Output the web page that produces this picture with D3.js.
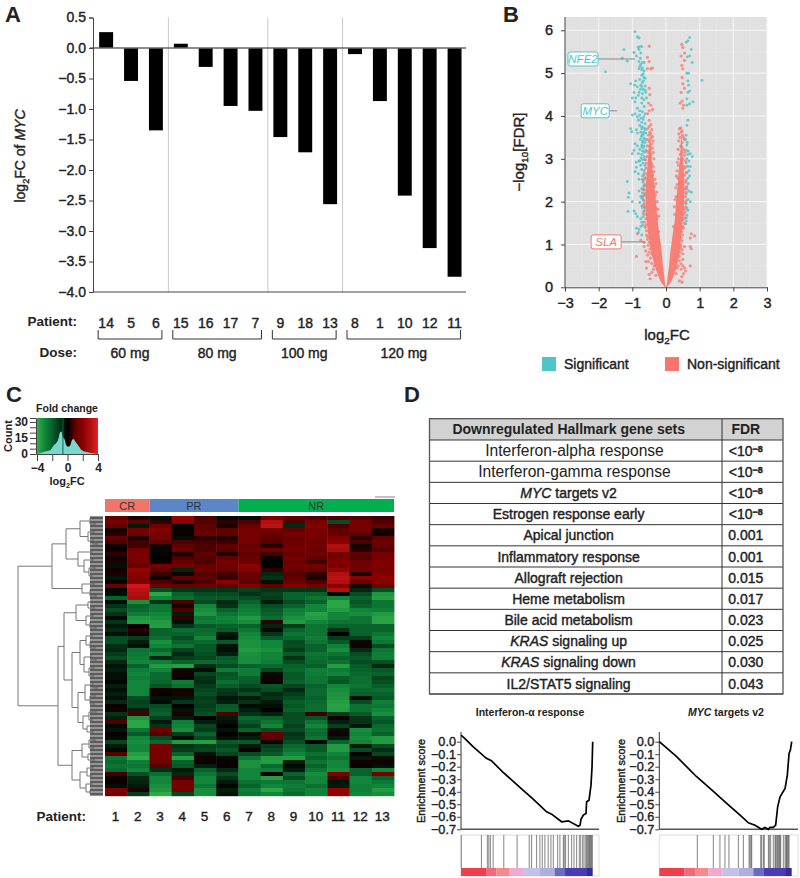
<!DOCTYPE html>
<html><head><meta charset="utf-8">
<script src="https://cdn.jsdelivr.net/npm/d3@7"></script>
<style>
html,body{margin:0;padding:0;background:#fff}
svg{display:block}
text{font-family:"Liberation Sans",Arial,sans-serif;fill:#222}
.m{stroke:#222;stroke-width:.4px}
.domain,.tick line{stroke:#444}
</style></head><body><svg id="c" width="800" height="878" viewBox="0 0 800 878"></svg>
<script>
// ---------- Panel A ----------
const patientsA=["14","5","6","15","16","17","7","9","18","13","8","1","10","12","11"];
const myc=[0.26,-0.54,-1.35,0.07,-0.31,-0.95,-1.03,-1.46,-1.71,-2.56,-0.1,-0.87,-2.42,-3.28,-3.75];
const doseNames=["60 mg","80 mg","100 mg","120 mg"];
const doseCounts=[3,4,3,5];
const yTicksA=[0.5,0,-0.5,-1,-1.5,-2,-2.5,-3,-3.5,-4];
// ---------- Panel B ----------
const volTicksX=[-3,-2,-1,0,1,2,3];
const volTicksY=[0,1,2,3,4,5,6];
const volEnvelope=[[0,-.02,0,0,.02],[.1,-.13,-.03,.03,.13],[.25,-.22,-.05,.05,.22],[.5,-.33,-.09,.09,.32],[.75,-.42,-.12,.12,.39],[1,-.48,-.15,.16,.42],[1.25,-.53,-.2,.2,.46],[1.5,-.57,-.24,.25,.49],[1.75,-.6,-.27,.28,.52],[2,-.61,-.3,.3,.54],[2.25,-.61,-.33,.33,.55],[2.5,-.59,-.36,.36,.54],[2.75,-.56,-.4,.38,.53],[3,-.53,-.43,.42,.5],[3.3,-.5,-.45,.44,.48],[3.6,-.47,-.465,.46,.465]];
const volSig=[[-.92,5.97],[-.85,5.85],[-.8,5.82],[-.78,5.62],[-.72,5.62],[-.83,5.6],[-.8,5.55],[-1.25,5.55],[-.95,5.48],[-.75,5.47],[-.88,5.4],[-1.3,5.35],[-1.15,5.28],[-.8,5.27],[-.7,5.25],[-.75,5.2],[-.65,5.25],[-.78,5.15],[-.7,5.12],[-.65,5.05],[-.8,5.1],[-1.8,5.03],[-.72,4.95],[-.65,4.9],[-.67,4.82],[-.7,4.78],[-1.05,4.75],[-.93,4.72],[-.85,4.68],[-.75,4.72],[-.62,4.7],[-.68,4.62],[-.8,4.55],[-.95,4.55],[-1,4.42],[-.9,4.42],[-.82,4.48],[-.7,4.52],[-.92,4.33],[-.58,4.42],[-.72,4.3],[-.65,4.22],[-.85,4.18],[-.78,4.12],[-.7,4.1],[-.92,4.05],[-1,4.02],[-.62,4.05],[-.85,3.98],[-.75,3.95],[-.68,3.92],[-.72,3.85],[-.62,3.82],[-.78,3.78],[-.65,3.72],[-.72,3.7],[-1.05,3.7],[-1.02,3.63],[-.85,3.6],[-.75,3.62],[-.68,3.58],[-.6,3.6],[-.73,3.52],[-.65,3.48],[-.6,3.45],[-.92,3.35],[-.85,3.3],[-.72,3.28],[-.65,3.3],[-.95,3.2],[-.78,3.22],[-.7,3.18],[-.6,3.2],[-1,3.12],[-.72,3.1],[-.65,3.05],[-.8,2.95],[-.68,2.9],[-.75,2.85],[-.62,2.85],[-.88,2.8],[-.72,2.75],[-.65,2.72],[-.92,2.7],[-.82,2.65],[-.7,2.6],[-.62,2.55],[-1.15,2.47],[-.68,2.45],[-.62,2.4],[-.72,2.3],[-.65,2.28],[-1.1,2.2],[-.7,2.2],[-.62,2.15],[-1.12,2.1],[-.75,2.12],[-1,2],[-.68,2.05],[-.65,1.95],[-.72,1.9],[-.62,1.85],[-1.13,1.77],[-.95,1.78],[-.9,1.72],[-.65,1.78],[-.85,1.65],[-.68,1.65],[-.88,1.38],[-.8,1.35],[-.82,1.28],[-.75,1.42],[.7,5.83],[.65,5.75],[.6,5.72],[.75,5.55],[.63,5.38],[.7,5.4],[.78,5.25],[.62,5],[.67,5],[1.07,4.83],[.65,4.82],[.67,4.72],[.7,4.58],[.65,4.55],[.62,4.4],[.8,4.33],[.7,4.28],[.62,4.25],[.65,3.9],[.62,3.78],[.6,3.55],[.58,3.45],[.63,3.38],[.6,3.2],[.72,3.12],[.65,3.1],[.62,3],[.78,3.05],[.68,2.95],[.6,2.9],[.72,2.82],[.68,2.72],[.62,2.68],[.7,2.6],[.65,2.55],[.62,2.3],[.68,2.25],[.75,2.22],[.65,2.05],[.72,2],[.6,1.95],[.62,1.85],[.65,1.8],[.6,1.55],[.58,1.48],[-.9,4.82],[-.78,4.85],[-.72,4.42],[-.6,4.55],[-.82,3.9],[-.88,3.68],[-.68,3.42],[-.82,3.12],[-.7,3.38],[-.78,2.95],[-.88,2.92],[-.8,2.52],[-.72,2.08],[-.8,2.25],[-.78,1.98],[-.76,5.35],[-.72,5.08],[-.68,4.98],[-.62,4.88],[-.72,4.68],[-.76,4.62],[-.62,4.6],[-.66,4.38],[-.78,4.02],[-.66,3.98],[-.72,3.75],[-.62,3.68],[-.66,3.62],[-.7,3.55],[-.76,3.45],[-.62,3.38],[-.72,3.32],[-.68,3.25],[-.64,3.15],[-.74,3.02],[-.62,2.98],[-.7,2.98],[-.66,2.62],[-.7,2.52],[-.66,2.36],[-.68,2.14],[-.7,1.86],[-.68,1.72],[-.75,1.6],[-.72,1.52],[-.7,1.45],[-.72,1.22],[.62,3.32],[.66,3.18],[.64,2.82],[.66,2.42],[.6,2.18],[.62,1.68],[.6,1.62]];
const volNonsig=[[-.5,5.63],[-.55,5.37],[-.5,5.27],[-.55,5.1],[-.45,5.1],[-.4,5.12],[.47,5.67],[.5,5.6],[.55,5.47],[.45,5.4],[.55,5.3],[.47,5.18],[.5,5.1],[.48,4.9],[.5,4.75],[.55,4.65],[.45,4.55],[.48,4.35],[.42,4.3],[.52,4.25],[.5,4.18],[-.5,4.65],[-.48,4.5],[-.52,4.3],[-.45,4.25],[-.5,4.12],[-.4,4.15],[-.55,4.05],[-.5,3.9],[-.45,3.8],[-.55,3.7],[-.48,3.62],[-.52,3.55],[-.45,3.48],[-.5,3.4],[-.42,3.35],[-.55,3.3],[-.48,3.22],[-.52,3.15],[-.44,3.1],[-.56,3.05],[.4,3.7],[.45,3.62],[.5,3.55],[.42,3.5],[.55,3.45],[.48,3.38],[.44,3.3],[.52,3.22],[.46,3.16],[.42,3.1],[.55,3.08],[.5,3],[-.58,2.9],[-.42,2.88],[-.6,2.78],[-.55,2.65],[-.4,2.62],[-.62,2.55],[-.64,2.38],[-.35,2.35],[-.64,2.2],[-.32,2.15],[-.66,2.02],[-.63,1.88],[-.3,1.85],[-.62,1.7],[-.6,1.6],[-.27,1.6],[-.6,1.45],[-.58,1.32],[-.22,1.3],[-.54,1.18],[-.5,1.05],[-.47,.9],[-.42,.78],[-.35,.5],[.37,2.85],[.55,2.78],[.56,2.62],[.35,2.55],[.58,2.45],[.33,2.4],[.57,2.3],[.58,2.12],[.3,2.12],[.56,1.98],[.55,1.82],[.52,1.7],[.26,1.7],[.5,1.58],[.5,1.42],[.22,1.42],[.46,1.3],[.45,1.15],[.43,1],[.41,.9],[.39,.72],[.33,.45],[.75,1.25],[.85,1.2],[.72,1.15],[.72,.95],[.75,.9],[-.85,1.25],[-.75,1.1],[-.65,1.05],[-.88,.72],[-.6,.6],[-.65,.95],[-.6,.85],[-.55,.75],[-.52,.6],[-.58,.45],[-.5,.3],[-.47,.2],[-.42,.35],[.45,.55],[.5,.5],[.55,.45],[.58,.38],[.52,.32],[.47,.25],[.48,.12],[.72,.5],[.4,.15],[.45,.42],[.5,.65],[.5,.78],[.48,.88],[.55,.95],[-.5,3.75],[-.42,3.68],[-.46,3.58],[-.4,3.52],[-.54,3.45],[-.38,3.42],[-.48,3.3],[-.4,3.25],[-.58,3.18],[-.38,3.15],[-.47,3.02],[-.36,3],[-.5,2.96],[-.62,2.98],[-.38,2.82],[-.36,2.7],[-.64,2.66],[-.33,2.52],[-.67,2.5],[-.3,2.42],[-.68,2.28],[-.28,2.22],[-.69,2.12],[-.26,2],[-.67,1.92],[-.24,1.82],[-.66,1.78],[-.22,1.66],[-.64,1.52],[-.62,1.4],[-.58,1.22],[-.55,1.12],[-.53,.98],[-.5,.82],[-.46,.68],[-.42,.56],[-.37,.42],[-.3,.28],[.44,3.72],[.48,3.65],[.38,3.58],[.52,3.5],[.38,3.42],[.46,3.28],[.36,3.22],[.56,3.15],[.37,3],[.58,2.95],[.34,2.92],[.57,2.82],[.33,2.72],[.6,2.68],[.31,2.6],[.6,2.5],[.29,2.32],[.61,2.35],[.6,2.22],[.27,2.05],[.6,2.02],[.58,1.88],[.25,1.88],[.57,1.75],[.55,1.62],[.54,1.5],[.51,1.38],[.49,1.22],[.47,1.08],[.44,.95],[.42,.82],[.4,.62],[.36,.5],[.3,.32]];
const geneLabels=[["NFE2",-.92,5.33,"sig"],["MYC",-1.45,4.12,"sig"],["SLA",-.62,1.06,"non"]];
const legendNames=["Significant","Non-significant"];
// ---------- Panel C ----------
const heatPatients=["1","2","3","4","5","6","7","8","9","10","11","12","13"];
const responseNames=["CR","PR","NR"];
const responseCounts=[2,4,7];
const histX=[-4,-3.5,-3,-2.5,-2.2,-2,-1.8,-1.5,-1.2,-1,-.8,-.6,-.4,-.2,0,.2,.4,.6,.8,1,1.2,1.4,1.6,1.8,2,2.4,3,4];
const histY=[0,1,2,3,4,6,8,10,14,20,21,16,14,9,7,7,9,13,14,12,10,8,6,4,3,2,1,0];
const heatValues=[
[1,.3,-.3,2.2,.8,-.2,-.2,1.5,1,.8,.8,.8,.6],
[1.5,1,.5,2,.9,.5,.8,3,.8,1.5,-1.5,1.5,.8],
[1.2,-.5,1.3,-.2,1,.3,1.2,3.2,-.8,1.8,.8,1.5,1.2],
[.2,1.5,1.8,.1,1,1,1.5,1.5,1,1.6,1,1.5,.3],
[.4,1.4,1.6,.1,1.2,1,1.5,1.2,1.5,1.5,1,1,.2],
[1,.3,1.5,-.3,.5,.4,1.5,1,1.2,1.5,1.8,.5,1],
[.8,.7,1,.8,.7,.6,1.5,.9,1.3,1.3,2,.8,1.3],
[.2,.7,.3,1,.8,1,1.2,.4,1.4,1.5,3,.2,1.2],
[.1,1.5,-.2,1.2,.8,.9,1.3,1.3,1.5,1.2,2.8,.4,.9],
[.5,1.6,.1,.3,1,.3,1,.7,1.2,1.5,1.5,1,1.5],
[.2,1.6,0,.8,.9,1,1.2,.1,1.5,1,1.5,.9,1.5],
[.3,1.5,.1,1.2,.8,1.5,1.3,0,1.3,.7,1.8,1.3,1.7],
[-.3,1.2,1.5,1.4,1.2,1.3,2,0,1.5,1.5,1.6,1.3,1.8],
[.2,2.2,1,-.7,1.3,1.3,1.8,.5,1.2,1.2,2.2,1.5,1.6],
[.3,2,.6,.2,.9,.7,1.4,-.8,.9,.5,3,.3,1.8],
[-.4,1.8,.2,1,1,.6,1.2,-1,1,.3,3.2,2,2],
[.1,1.7,.8,.3,.8,2,1,-.3,1.3,.8,3,1.2,1.9],
[1.2,3.5,1.3,1.2,1.3,1,1.8,1,1.8,1.5,2,.3,1.4],
[-.2,3.2,-1.5,-1,-1,-1,-1.3,-1,-1,-1,3,-.7,-1.5],
[-.3,3,-3.8,-2,-1.5,-1.5,-1,-1.3,-2,-2,0,-1.5,-3.4],
[-2,2.8,-3,-2.3,-1.8,-1.8,-1.5,-1.2,-2,-2.5,-3,-2,-3.6],
[-.3,-3.3,-1,.8,-1.5,-.8,-2,-.5,-1.5,-2,-3.8,-1.7,-2.5],
[-1,-2,-2.5,.3,-3,-1,-2.5,-1.5,-2,-3,-3.8,-2,-2.5],
[-1.5,-2.2,-2.6,.8,-3.2,-2,-2.8,-1.8,-2.8,-3,-3.5,-3,-2.8],
[-1,-2.7,-3,-.5,-3.4,-2.5,-3,-2,-3,-3.7,-3,-3.2,-3.5],
[-.2,-3.4,-3.2,.5,-2.5,-3,-3.5,-2.3,-3.3,-3.5,-3,-2.5,-3.7],
[-1,-3.5,-3.5,-.3,-2.8,-2.8,-3.2,.5,-3.5,-3,-2.5,-2.5,-3.7],
[-.5,0,-3.6,-1,-1.8,-2,-2,-.7,-1.2,-2.5,-2,-2,-2],
[-.8,.4,-2,-2.3,-2.2,-1.8,-2.5,-.2,-2,-2.5,-1,-2,-2],
[-.3,.2,-2,-2,-2.3,-.5,-3,-1,-2.5,-2.5,0,-2,-2.5],
[-1.5,-1.2,-2.3,-1.5,-3,-.3,-3.2,-1.8,-2.2,-2.8,-1.2,-1.2,-3],
[-1.6,-.6,-3.3,-2,-2.2,-1.8,-3.3,-3,-1.5,-2.5,-1.8,-.2,-2.6],
[-.9,-.3,-3,-2.5,-1.8,-.4,-3.3,-3,-1.6,-2,-2.8,.2,-1.5],
[-.8,-2.5,-2.2,-1.3,-1.8,-.3,-3.5,-3.3,-1.2,-2,-3.2,-.8,-2.5],
[-1.2,-2.6,-3,-.8,-1.6,-.6,-3.3,-3,-1.8,-2.5,-2.5,-1.5,-2.8],
[-1.5,-2.8,-.8,-1.2,-1.4,-1.8,-3.2,-2.9,-1,-2.3,-2,-1.8,-2.8],
[-.8,-3,-2.8,-2,-2.2,-2,-3.2,-2.8,-1.5,-2.2,-2.4,-1.5,-1.6],
[-.4,-2,-3.5,-3.6,-.9,-1.5,-2,-2.2,-2,-1.9,-3.6,-1.8,-.8],
[-.6,-2.8,-3,-.2,-.3,-2.7,-2.7,-1.4,-2.1,-2.8,-2.7,-2,-1.8],
[-.3,-3,-2.2,.2,-1.4,-1.7,-2.7,-.3,-1.8,-2.7,-3,-2.2,-2],
[-.3,-2.7,-2.2,.1,-1,-1.8,-2,.2,-1.8,-2.6,-1.9,-2.3,-1.4],
[-.1,-3,-2.1,-2.7,-.9,-2.4,-1.9,.1,-2,-2.5,-1.7,-2.4,-1.6],
[-.6,-3,-1.7,-2.4,-1.2,-1.9,-1.5,-1.7,-1.4,-2,-3,-2.5,-1.9],
[-.3,-3,.2,-.2,-1.4,-1.2,-1,-1.5,-.8,-2.2,-3.2,-2.2,-2.3],
[-.6,-3,.1,.3,-1.6,-1,-1.6,-.8,-1.2,-2.2,-3.3,-2,-2],
[-.3,-1.5,-.4,-.4,-1.2,-.4,-.5,-1,-1.5,-2,-3.4,-.3,-1.8],
[-.8,-1.3,-.2,-1.1,-1.3,-.6,-1,-.5,-1.9,-2.2,-3.6,-1.5,-2.8],
[.1,-1.4,-1.5,0,-1.2,-1.8,-.2,-.3,-1.7,-2.3,-3.7,-2.4,-2.6],
[.2,-.6,-1.8,-.4,-1.4,-1.9,-.6,0,-2,-2.3,-3.6,-2.4,-3],
[-1,.7,-2,.3,-1.6,.8,-1,-.6,-1.5,.6,-1.2,-1.8,-3.2],
[-.6,-3.4,-1.3,-.5,0,-.5,-2.2,-2,-1.5,-1.7,.2,-1,-2],
[.8,-3.8,-.5,-2.8,-.6,-.3,-1.8,-2.5,-1.6,-2.5,-.6,-1,-1.7],
[-.2,-3.8,-1,-3,-1.4,0,-1.3,-3,-1.3,-3,-1.3,-.4,-2.2],
[-.4,-2.5,1.4,-3.2,-1.2,-.4,-2,-1.5,-1.5,-2.4,-.3,-3.2,-2.4],
[.1,-1.8,.9,-1.2,-2,0,-.3,1.2,-1,-2.2,.2,-3,-2],
[-.2,-3,-1.5,-.3,-1.5,-.3,-.6,1,-1.2,-2.5,-.5,-3.2,-3.5],
[-1.4,-3.2,-2.2,-3.5,-3.6,-1.8,-1.8,.2,-1.6,-.1,-2,-3,-3.5],
[-.5,-3,1.6,-1,-1.3,-1.4,-.5,-1.2,-2.2,-1.8,-3.5,-.5,-1.5],
[-.2,-3,1.5,-1.2,-1.4,-1.8,.1,-1.5,-2.5,-1.8,-3.5,-1.5,-.9],
[.9,-3.6,1.5,-2,-.4,-1.4,-1.5,-1.8,-3,-2.4,-2.9,.1,-1.4],
[-2.5,-3.9,1.6,-3.6,.2,-.2,-2.5,-3.5,-3.5,-2,-2.5,-.5,-.3],
[-2.2,-2.8,1.3,-2,.1,.1,-3.3,-3.6,-.6,-2.5,-3,.2,.2],
[-2.5,-2.5,.9,-1.8,-.6,.1,-3.3,-2.2,-.2,-2,-3,.1,-.3],
[-2.2,-3,-.9,-.5,-2,-.8,-3,-2.8,-.5,-2.6,-3.2,-2,-3],
[.7,-1.6,-2.3,-.8,-2.5,-1.5,-3,.2,-2,-3.2,1.8,-2,1.6],
[.1,-.8,-3,.7,-3,-1,-3,-3.6,-1.5,-3,.8,-3,-2],
[.1,-.7,-3,1.5,-3,-.5,-2.4,-2.6,-2.5,-3,-.4,-3,-2.6],
[-.3,-.5,-3.2,1.5,-2.6,-.1,-2,-3,-2.8,-2.4,-.5,-2.8,-3],
[1.8,.3,-3.4,1.4,-3.2,-.6,-2.8,-3.8,-2.6,-2.9,2.2,-2.8,-3.5],
[1.5,-1.2,-3.9,-1.4,-3.2,-.4,-2.6,-3,-2.2,-2.9,2.2,-3,-3.2]];
// node = [mergeHeight, child, child]; 0 = leaf (heat row, in order)
const dendrogram=[84,
 [50,[36,[22,[12,0,[7,0,0]],[14,[8,0,0],[9,0,[5,0,0]]]],[24,[10,0,0],[18,[9,0,0],[13,[7,0,0],[10,0,0]]]]],
     [20,[8,0,0],[12,0,[6,0,0]]]],
 [44,[38,[26,[14,0,[8,0,0]],[16,[9,0,0],[12,0,[6,0,0]]]],
         [30,[22,[16,[10,0,0],[12,0,[7,0,0]]],[18,[11,0,[6,0,0]],[13,[8,0,0],[9,0,0]]]],
             [24,[17,[9,0,[5,0,0]],[12,[7,0,0],[8,0,0]]],[19,[13,[6,0,0],[10,0,0]],[15,0,[9,0,0]]]]]],
     [30,[20,[13,[7,0,0],[9,0,0]],[14,0,[8,0,0]]],[22,[15,[9,0,0],[11,0,0]],[16,[10,0,0],[12,0,0]]]]]];
// ---------- Panel D ----------
const setItalic=["","","MYC","","","","","","","KRAS","KRAS",""];
const setNames=["Interferon-alpha response","Interferon-gamma response"," targets v2","Estrogen response early","Apical junction","Inflammatory response","Allograft rejection","Heme metabolism","Bile acid metabolism"," signaling up"," signaling down","IL2/STAT5 signaling"];
const setFdr=["<10","<10","<10","<10","0.001","0.001","0.015","0.017","0.023","0.025","0.030","0.043"];
const esTicks=[0,-.1,-.2,-.3,-.4,-.5,-.6,-.7];
const esIfnRank=[0,.028,.091,.193,.231,.32,.447,.548,.65,.688,.764,.815,.891,.904,.911,.929,.949,.954,.972,.987,.995,1];
const esIfnScore=[.053,.027,-.04,-.133,-.152,-.245,-.365,-.459,-.56,-.579,-.64,-.632,-.675,-.667,-.62,-.587,-.573,-.48,-.467,-.347,-.2,0];
const esMycRank=[0,.131,.282,.383,.509,.61,.673,.723,.773,.798,.824,.836,.861,.879,.894,.912,.95,.967,.98,.99,1];
const esMycScore=[0,-.12,-.28,-.373,-.493,-.587,-.648,-.667,-.7,-.685,-.7,-.685,-.685,-.667,-.52,-.44,-.373,-.267,-.093,-.067,0];
const hitsIfn=[.002,.155,.2,.211,.223,.244,.325,.426,.518,.536,.574,.599,.617,.637,.662,.683,.701,.734,.751,.777,.784,.794,.815,.84,.858,.878,.898,.909,.924,.934,.947,.954,.962,.967,.975,.98,.985,.992,.997];
const hitsMyc=[.287,.408,.458,.496,.526,.597,.635,.678,.685,.693,.698,.766,.773,.786,.793,.824,.831,.841,.861,.874,.879,.887,.894,.899,.907,.912,.917,.937,.95,.957,.962,.967,.975,.98];
const stripEnds=[.19,.27,.37,.477,.6,.71,.79,.95,1];
const stripColors=["#ee3f4d","#f26a78","#f58a8c","#eeaad0","#c2c2e6","#b0aedc","#6a6cc0","#4a3cb0","#3328a0"];

const svg=d3.select("#c");
const TEAL="#4fc5ca",RED="#f8766d";
const minus=s=>String(s).replace("-","\u2212");
function txt(g,x,y,s,o={}){
  const t=g.append("text").attr("x",x).attr("y",y).text(s)
   .attr("text-anchor",o.a||"middle").attr("font-size",o.fs||14);
  if(o.b)t.attr("font-weight","bold");
  if(o.i)t.attr("font-style","italic");
  if(o.m!==false&&!o.b)t.attr("class","m");
  if(o.r)t.attr("transform",`rotate(-90 ${x} ${y})`);
  if(o.fill)t.style("fill",o.fill);
  return t;
}
function addSub(t,base,sub,rest,fs){
  t.text(null);
  t.append("tspan").text(base);
  t.append("tspan").text(sub).attr("font-size",fs*.66).attr("dy",fs*.28);
  const r=t.append("tspan").text(rest).attr("dy",-fs*.28);
  return r;
}
function styleAxis(g,sw){
  g.selectAll(".domain").attr("stroke","#444").attr("stroke-width",sw||1);
  g.selectAll(".tick line").attr("stroke","#444").attr("stroke-width",1);
  g.selectAll(".tick text").attr("class","m").style("font-family",'"Liberation Sans",Arial,sans-serif');
}
[["A",5,22],["B",503,22],["C",6,402],["D",404,402]].forEach(d=>txt(svg,d[1],d[2],d[0],{a:"start",fs:22,b:true}));

// ---------- A ----------
(function(){
 const g=svg.append("g");
 const x=d3.scaleBand().domain(d3.range(patientsA.length)).range([93.7,467]).paddingInner(.44).paddingOuter(.22);
 const step=x.step(),cx=i=>x(i)+x.bandwidth()/2;
 const y=d3.scaleLinear().domain([.5,-4]).range([17.5,292]);
 let c=0;const seps=[],groups=[];
 doseCounts.forEach((n,i)=>{groups.push([c,c+n-1,doseNames[i]]);c+=n;if(c<patientsA.length)seps.push(c);});
 g.selectAll(".sep").data(seps).join("line").attr("x1",d=>93.7+d*step).attr("x2",d=>93.7+d*step).attr("y1",y(.5)).attr("y2",y(-4)).attr("stroke","#c8c8c8").attr("stroke-width",1);
 g.selectAll(".bar").data(myc).join("rect").attr("x",(d,i)=>x(i)).attr("width",x.bandwidth())
  .attr("y",d=>Math.min(y(d),y(0))).attr("height",d=>Math.abs(y(d)-y(0))).attr("fill","#000");
 g.append("line").attr("x1",90).attr("x2",466).attr("y1",y(0)).attr("y2",y(0)).attr("stroke","#666").attr("stroke-width",1.5);
 g.append("line").attr("x1",93).attr("x2",466).attr("y1",y(-4)).attr("y2",y(-4)).attr("stroke","#444").attr("stroke-width",1);
 const ax=g.append("g").attr("transform","translate(93,0)").call(d3.axisLeft(y).tickValues(yTicksA).tickSize(4).tickPadding(3).tickFormat(v=>minus(v.toFixed(1))));
 styleAxis(ax);ax.selectAll("text").attr("font-size",14);
 const t=txt(g,25,156,"",{r:true,fs:14});
 addSub(t,"log","2","FC of ",14);
 t.append("tspan").text("MYC").attr("font-style","italic");
 txt(g,77,326,"Patient:",{a:"end",b:true,fs:13.5});
 txt(g,77,357,"Dose:",{a:"end",b:true,fs:13.5});
 patientsA.forEach((p,i)=>txt(g,cx(i),328,p,{fs:14}));
 groups.forEach(([a,b,n])=>{
  const l=cx(a)-8,rr=cx(b)+6;
  g.append("path").attr("d",`M${l},330V339H${rr}V330`).attr("fill","none").attr("stroke","#333");
  txt(g,(l+rr)/2,358,n,{fs:14});
 });
})();

// ---------- B ----------
(function(){
 const g=svg.append("g");
 const x=d3.scaleLinear().domain([-3,3]).range([565,767]);
 const y=d3.scaleLinear().domain([0,6]).range([287.3,30.3]);
 const top=17;
 g.append("rect").attr("x",565).attr("y",top).attr("width",202).attr("height",287.3-top).attr("fill","#e1e1e1");
 d3.range(-2.5,3,1).forEach(v=>g.append("line").attr("x1",x(v)).attr("x2",x(v)).attr("y1",top).attr("y2",287).attr("stroke","#eaeaea").attr("stroke-width",.5));
 d3.range(.5,6.5,1).forEach(v=>g.append("line").attr("x1",565).attr("x2",767).attr("y1",y(v)).attr("y2",y(v)).attr("stroke","#eaeaea").attr("stroke-width",.5));
 volTicksX.forEach(v=>g.append("line").attr("x1",x(v)).attr("x2",x(v)).attr("y1",top).attr("y2",287).attr("stroke","#f6f6f6").attr("stroke-width",1));
 volTicksY.forEach(v=>g.append("line").attr("x1",565).attr("x2",767).attr("y1",y(v)).attr("y2",y(v)).attr("stroke","#f6f6f6").attr("stroke-width",1));
 const left=d3.area().y(d=>y(d[0])).x0(d=>x(d[1])).x1(d=>x(d[2])).curve(d3.curveMonotoneY);
 const right=d3.area().y(d=>y(d[0])).x0(d=>x(d[3])).x1(d=>x(d[4])).curve(d3.curveMonotoneY);
 g.append("path").attr("d",left(volEnvelope)).attr("fill",RED).attr("fill-opacity",.92);
 g.append("path").attr("d",right(volEnvelope)).attr("fill",RED).attr("fill-opacity",.92);
 g.selectAll(".s").data(volSig).join("circle").attr("cx",d=>x(d[0])).attr("cy",d=>y(d[1])).attr("r",1.45).attr("fill",TEAL).attr("fill-opacity",.85);
 g.selectAll(".n").data(volNonsig).join("circle").attr("cx",d=>x(d[0])).attr("cy",d=>y(d[1])).attr("r",1.6).attr("fill",RED).attr("fill-opacity",.75);
 const ax=g.append("g").attr("transform","translate(0,287.3)").call(d3.axisBottom(x).tickValues(volTicksX).tickSize(4).tickPadding(6).tickFormat(v=>minus(v)));
 const ay=g.append("g").attr("transform","translate(565,0)").call(d3.axisLeft(y).tickValues(volTicksY).tickSize(4).tickPadding(8).tickFormat(d3.format("d")));
 ay.selectAll(".domain").attr("d",`M0,287.3V${top}`);
 styleAxis(ax);styleAxis(ay);ax.selectAll("text").attr("font-size",14.5);ay.selectAll("text").attr("font-size",14.5);
 geneLabels.forEach(([n,vx,vy,k])=>{
  const col=k==="sig"?TEAL:RED,px=x(vx),py=y(vy);
  const len=k==="sig"?(n==="MYC"?8:37):24,w=n==="MYC"?28:30;
  g.append("line").attr("x1",px-len).attr("x2",px).attr("y1",py).attr("y2",py).attr("stroke","#888");
  g.append("rect").attr("x",px-len-w).attr("y",py-7).attr("width",w).attr("height",14).attr("rx",2).attr("fill","#fff").attr("stroke",col).attr("stroke-width",1);
  txt(g,px-len-w/2,py+4,n,{fs:11.5,i:true,m:false,fill:col});
 });
 const t=txt(g,524,152,"",{r:true,fs:15});
 addSub(t,"\u2212log","10","[FDR]",15);
 const l=txt(g,667,340,"",{fs:15});
 addSub(l,"log","2","FC",15);
 [[542,564,TEAL],[665,687,RED]].forEach((d,i)=>{
  g.append("rect").attr("x",d[0]).attr("y",357).attr("width",14).attr("height",14).attr("fill",d[2]);
  txt(g,d[1],369,legendNames[i],{a:"start",fs:14});
 });
})();

// ---------- C ----------
const heatColor=d3.scaleLinear().domain([-4,-3,-2,-1,0,1,2,3,4]).range(["#32ae48","#11853a","#08622b","#043316","#000000","#600000","#8c0000","#b01010","#ed1c24"]);
(function(){
 const g=svg.append("g");
 // colour key
 const kx=d3.scaleLinear().domain([-4,4]).range([37,98]);
 const ky=d3.scaleLinear().domain([0,33.7]).range([454,418]);
 const grad=svg.append("defs").append("linearGradient").attr("id","key");
 d3.range(0,1.001,.05).forEach(f=>grad.append("stop").attr("offset",f).attr("stop-color",heatColor(-4+8*f)));
 g.append("rect").attr("x",37).attr("y",418).attr("width",61).attr("height",36).attr("fill","url(#key)");
 g.append("path").attr("d",d3.area().x((d,i)=>kx(histX[i])).y0(454).y1(d=>ky(d)).curve(d3.curveMonotoneX)(histY)).attr("fill","#7dd5d0");
 g.append("line").attr("x1",kx(-.6)).attr("x2",kx(-.6)).attr("y1",418).attr("y2",454).attr("stroke","#0a6a45").attr("stroke-width",1);
 txt(g,67,412,"Fold change",{b:true,fs:10.5});
 const ay=g.append("g").attr("transform","translate(36,0)").call(d3.axisLeft(ky).tickValues([0,5,10,15,20,25,30]).tickSize(6).tickFormat(v=>v%15?"":v).tickPadding(2));
 styleAxis(ay);ay.selectAll("text").attr("font-size",12).attr("font-weight","bold").attr("class",null);
 const ax=g.append("g").attr("transform","translate(0,454)").call(d3.axisBottom(kx).tickValues([-4,-2,0,2,4]).tickSize(7).tickFormat(v=>Math.abs(v)===2?"":minus(v)).tickPadding(2));
 styleAxis(ax);ax.selectAll("text").attr("font-size",12).attr("font-weight","bold").attr("class",null);
 txt(g,12,436,"Count",{r:true,b:true,fs:11});
 const lg=txt(g,67,485,"",{b:true,fs:11});
 addSub(lg,"log","2","FC",11);
 // annotation bar
 const xh=d3.scaleBand().domain(d3.range(13)).range([105,394]);
 const yh=d3.scaleBand().domain(d3.range(heatValues.length)).range([516,796]);
 const annotColors=["#f2756a","#5b86c8","#00b050"];
 let c=0;
 responseCounts.forEach((n,i)=>{
  g.append("rect").attr("x",xh(c)).attr("y",499).attr("width",n*xh.step()).attr("height",13).attr("fill",annotColors[i]);
  txt(g,xh(c)+n*xh.step()/2,510,responseNames[i],{fs:11,m:false,fill:"#333"});
  c+=n;
 });
 g.append("line").attr("x1",375).attr("x2",395).attr("y1",497).attr("y2",497).attr("stroke","#888");
 // heat map
 heatValues.forEach((row,r)=>row.forEach((v,k)=>{
  g.append("rect").attr("x",xh(k)).attr("y",yh(r)).attr("width",xh.bandwidth()+.4).attr("height",yh.bandwidth()+.2).attr("fill",heatColor(v));
 }));
 // dendrogram
 const dx=h=>102-h;
 let leaf=0;const segs=[];
 function walk(n){
  if(n===0){const yy=yh(leaf)+yh.bandwidth()/2;leaf++;return{y:yy,h:0};}
  const a=walk(n[1]),b=walk(n[2]),h=n[0];
  segs.push([dx(a.h),a.y,dx(h),a.y],[dx(b.h),b.y,dx(h),b.y],[dx(h),a.y,dx(h),b.y]);
  return{y:(a.y+b.y)/2,h};
 }
 walk(dendrogram);
 g.selectAll(".dn").data(segs).join("line").attr("x1",d=>d[0]).attr("y1",d=>d[1]).attr("x2",d=>d[2]).attr("y2",d=>d[3]).attr("stroke","#777").attr("stroke-width",1);
 d3.range(heatValues.length).forEach(r=>g.append("line").attr("x1",90).attr("x2",103).attr("y1",yh(r)+yh.bandwidth()/2).attr("y2",yh(r)+yh.bandwidth()/2).attr("stroke","#5c5c5c").attr("stroke-width",3.3));
 // labels
 txt(g,86,821,"Patient:",{a:"end",b:true,fs:13.5});
 heatPatients.forEach((p,i)=>txt(g,xh(i)+xh.bandwidth()/2-.5,821,p,{fs:13.5}));
})();

// ---------- D ----------
(function(){
 const g=svg.append("g");
 const L=429.5,R=783,M=722,T=418.7,H=440;
 const y=d3.scaleBand().domain(d3.range(setNames.length)).range([440,694]);
 g.append("rect").attr("x",L).attr("y",T).attr("width",R-L).attr("height",H-T).attr("fill","#d2d2d2");
 txt(g,568.7,434,"Downregulated Hallmark gene sets",{b:true,fs:14});
 txt(g,745.8,434,"FDR",{b:true,fs:14});
 setNames.forEach((n,i)=>{
  const bot=y(i)+y.bandwidth();
  g.append("line").attr("x1",L).attr("x2",R).attr("y1",bot).attr("y2",bot).attr("stroke","#333");
  const t=txt(g,i<2?574.5:568.6,bot-5.5,"",{fs:i<2?15.6:14,m:i>=2});
  if(setItalic[i])t.append("tspan").text(setItalic[i]).attr("font-style","italic");
  t.append("tspan").text(n);
  const f=txt(g,745.8,bot-5.5,setFdr[i],{fs:14});
  if(i<4){f.append("tspan").text("\u22128").attr("font-size",9).attr("dy",-4).attr("font-weight","bold");}
 });
 g.append("line").attr("x1",L).attr("x2",R).attr("y1",H).attr("y2",H).attr("stroke","#333");
 g.append("line").attr("x1",M).attr("x2",M).attr("y1",T).attr("y2",694).attr("stroke","#333");
 g.append("rect").attr("x",L).attr("y",T).attr("width",R-L).attr("height",694-T).attr("fill","none").attr("stroke","#555").attr("stroke-width",1.3);

 function gsea(x0,x1,boxR,titleX,ranks,scores,hits,labelX,titleFn){
  const x=d3.scaleLinear().domain([0,1]).range([x0,x1]);
  const yy=d3.scaleLinear().domain([0,-.7]).range([741.7,829.3]);
  titleFn(txt(g,titleX,716,"",{b:true,fs:10.5}));
  g.append("line").attr("x1",x0).attr("x2",x0).attr("y1",732).attr("y2",829.3).attr("stroke","#333");
  g.append("line").attr("x1",x0).attr("x2",boxR).attr("y1",829.3).attr("y2",829.3).attr("stroke","#555").attr("stroke-width",1.4);
  const a=g.append("g").attr("transform",`translate(${x0},0)`).call(d3.axisLeft(yy).tickValues(esTicks).tickSize(4).tickPadding(1).tickFormat(v=>minus(v.toFixed(1))));
  styleAxis(a);a.select(".domain").remove();a.selectAll("text").attr("font-size",12.7);
  g.append("path").attr("d",d3.line().x((d,i)=>x(ranks[i])).y(d=>yy(d))(scores)).attr("fill","none").attr("stroke","#000").attr("stroke-width",1.7);
  txt(g,labelX,781,"Enrichment score",{r:true,fs:10.8});
  g.append("rect").attr("x",x0).attr("y",835).attr("width",boxR-x0).attr("height",41).attr("fill","none").attr("stroke","#ddd");
  g.selectAll(null).data(hits).join("line").attr("x1",d=>x(d)).attr("x2",d=>x(d)).attr("y1",835).attr("y2",868).attr("stroke","#333").attr("stroke-opacity",.6).attr("stroke-width",1);
  stripEnds.forEach((e,i)=>{const s=i?stripEnds[i-1]:0;
   g.append("rect").attr("x",x(s)).attr("y",868).attr("width",x(e)-x(s)).attr("height",8).attr("fill",stripColors[i]);});
 }
 gsea(461,592.7,599,530,esIfnRank,esIfnScore,hitsIfn,425,t=>t.text("Interferon-\u03b1 response"));
 gsea(659.3,791.7,798,726,esMycRank,esMycScore,hitsMyc,625,t=>{t.append("tspan").text("MYC").attr("font-style","italic");t.append("tspan").text(" targets v2");});
})();
</script></body></html>
